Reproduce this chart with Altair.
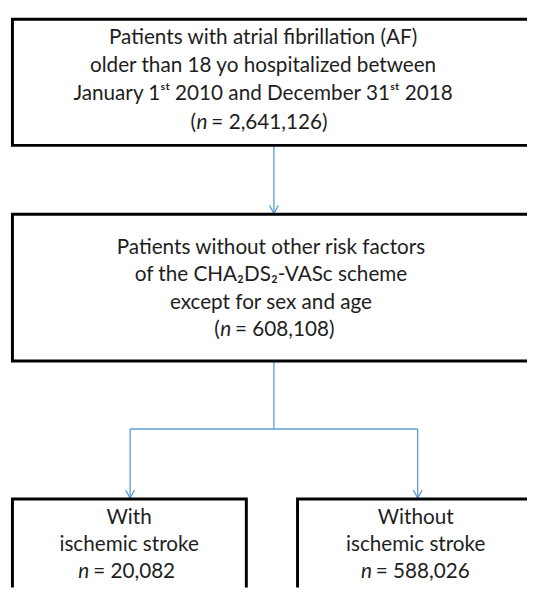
import altair as alt
import pandas as pd

# ---- content (values) ----
top_lines = ["Patients with atrial fibrillation (AF)",
             "older than 18 yo hospitalized between",
             "January 1ˢᵗ 2010 and December 31ˢᵗ 2018"]
mid_lines = ["Patients without other risk factors",
             "of the CHA₂DS₂-VASc scheme",
             "except for sex and age"]
left_lines = ["With", "ischemic stroke"]
right_lines = ["Without", "ischemic stroke"]
counts = [2641126, 608108, 20082, 588026]
paren = [True, True, False, False]

# ---- layout (page pixels) ----
FONT = "Lato"
FS = 21
BLUE = "#5B9BD5"
boxes = pd.DataFrame({
    "x": [12.5, 12.5, 12.5, 302],
    "x2": [560, 560, 250, 560],
    "y": [15, 213, 502, 502],
    "y2": [143, 362, 620, 620],
})
conn = pd.DataFrame({
    "x":  [278, 278, 132, 132, 424],
    "x2": [278, 278, 424, 132, 424],
    "y":  [143, 362, 431, 431, 431],
    "y2": [212, 431, 431, 501, 501],
})
tips = [(278, 212), (132, 501), (424, 501)]
heads = []
for tx, ty in tips:
    heads.append({"x": tx - 4.5, "y": ty - 8, "x2": tx, "y2": ty})
    heads.append({"x": tx + 4.5, "y": ty - 8, "x2": tx, "y2": ty})
heads = pd.DataFrame(heads)

text_rows = []
def add_lines(lines, cx, baselines):
    for t, b in zip(lines, baselines):
        text_rows.append({"t": t, "x": cx, "y": b})
add_lines(top_lines, 267, [40, 68.5, 97])
add_lines(mid_lines, 275, [253, 281, 309])
add_lines(left_lines, 131, [527, 555])
add_lines(right_lines, 422, [527, 555])
texts = pd.DataFrame(text_rows)

# n-lines: italic n centre, baseline
n_pos = [(205, 126), (229, 337), (85, 582), (372, 582)]
n_rows, pre_rows, post_rows = [], [], []
for (nx, ny), c, p in zip(n_pos, counts, paren):
    n_rows.append({"t": "n", "x": nx, "y": ny})
    if p:
        pre_rows.append({"t": "(", "x": nx - 6, "y": ny})
        post_rows.append({"t": f"= {c:,})", "x": nx + 9.5, "y": ny})
    else:
        post_rows.append({"t": f"= {c:,}", "x": nx + 9.5, "y": ny})

xs = alt.Scale(domain=[8, 535], nice=False, zero=False)
ys = alt.Scale(domain=[8, 592], nice=False, zero=False, reverse=True)

def X(f="x"):
    return alt.X(f"{f}:Q", scale=xs, axis=None)
def Y(f="y"):
    return alt.Y(f"{f}:Q", scale=ys, axis=None)

box_layer = alt.Chart(boxes).mark_rect(
    fill="white", stroke="black", strokeWidth=3, clip=True
).encode(x=X(), x2="x2:Q", y=Y(), y2="y2:Q")

conn_layer = alt.Chart(conn).mark_rule(color=BLUE, strokeWidth=1.3).encode(
    x=X(), x2="x2:Q", y=Y(), y2="y2:Q")
head_layer = alt.Chart(heads).mark_rule(color=BLUE, strokeWidth=1.3).encode(
    x=X(), x2="x2:Q", y=Y(), y2="y2:Q")

def text_layer(df, align, style="normal"):
    return alt.Chart(df).mark_text(
        font=FONT, fontSize=FS, align=align, baseline="alphabetic",
        color="#1e1e1e", fontStyle=style
    ).encode(x=X(), y=Y(), text="t:N")

chart = alt.layer(
    conn_layer, head_layer, box_layer,
    text_layer(texts, "center"),
    text_layer(pd.DataFrame(n_rows), "center", "italic"),
    text_layer(pd.DataFrame(pre_rows), "right"),
    text_layer(pd.DataFrame(post_rows), "left"),
).properties(width=527, height=584, padding=0, background="white"
).configure_view(stroke=None)

chart.save("out.html", embed_options={"renderer": "svg", "actions": False})
